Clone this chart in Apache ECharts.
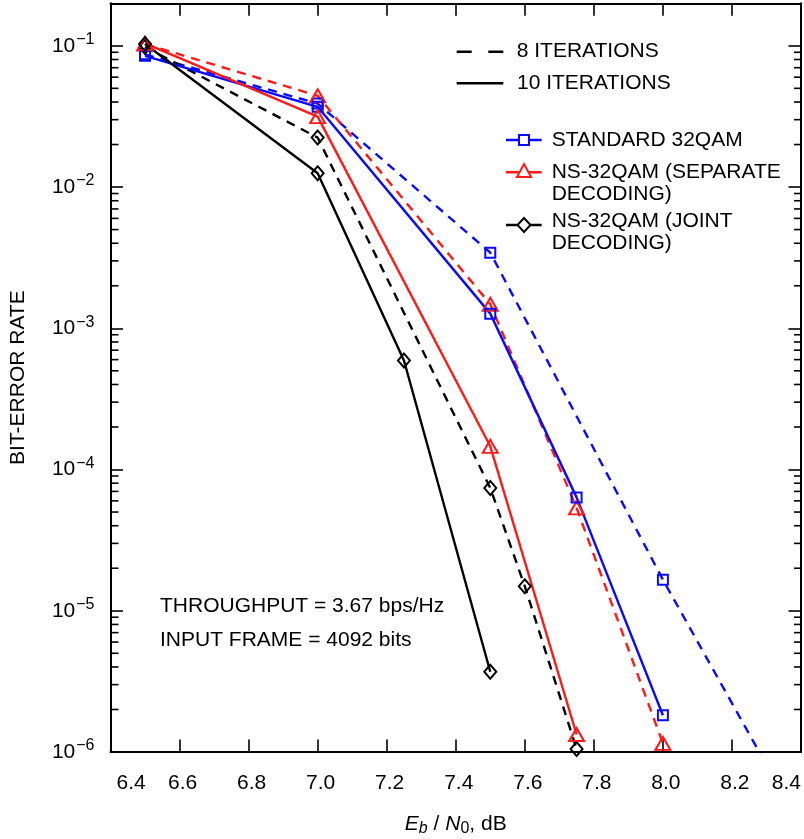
<!DOCTYPE html>
<html>
<head>
<meta charset="utf-8">
<script src="https://cdn.jsdelivr.net/npm/echarts@6/dist/echarts.min.js"></script>
<style>html,body{margin:0;padding:0;background:#fff}#c{width:804px;height:839px}</style>
</head>
<body>
<div id="c"></div>
<script>
// ---- data ----
const snrStd8  = [6.5, 7.0, 7.5, 8.0, 8.5];
const berStd8  = [0.087, 0.039, 3.43e-3, 1.66e-5, 1.08e-7];
const snrStd10 = [6.5, 7.0, 7.5, 7.75, 8.0];
const berStd10 = [0.085, 0.037, 1.27e-3, 6.35e-5, 1.82e-6];
const snrSep8  = [6.5, 7.0, 7.5, 7.75, 8.0];
const berSep8  = [0.103, 0.0443, 1.48e-3, 5.35e-5, 1.15e-6];
const snrSep10 = [6.5, 7.0, 7.5, 7.75];
const berSep10 = [0.104, 0.0315, 1.46e-4, 1.33e-6];
const snrJnt8  = [6.5, 7.0, 7.5, 7.6, 7.75];
const berJnt8  = [0.098, 0.0224, 7.4e-5, 1.49e-5, 1.05e-6];
const snrJnt10 = [6.5, 7.0, 7.25, 7.5];
const berJnt10 = [0.103, 0.01254, 5.92e-4, 3.7e-6];

const xTickMin = 6.4, xTickMax = 8.4, xTickStep = 0.2;
const yMin = 1e-6, yMax = 0.2;
const minorMultipliers = [2, 3, 4, 5, 6, 7, 8, 9];
const minorDecades = [1e-6, 1e-5, 1e-4, 1e-3, 1e-2, 1e-1];

const legendIter = ['8 ITERATIONS', '10 ITERATIONS'];
const legendSeries = ['STANDARD 32QAM', 'NS-32QAM (SEPARATE\nDECODING)', 'NS-32QAM (JOINT\nDECODING)'];
const noteLines = ['THROUGHPUT = 3.67 bps/Hz', 'INPUT FRAME = 4092 bits'];

const BLUE = '#0a0aff', RED = '#ff1a1a', BLACK = '#000';
const FONT = '"Liberation Sans", Arial, Helvetica, sans-serif';
const DASH = [9, 7];
const LW = 2.4;

const minorTickValues = [];
minorDecades.forEach(d => minorMultipliers.forEach(m => { const v = d * m; if (v < yMax) minorTickValues.push(v); }));

function pairs(xs, ys) { return xs.map((x, i) => [x, ys[i]]); }

function mkSeries(name, xs, ys, color, dashed, symbol, size) {
  return {
    name, type: 'line', data: pairs(xs, ys), xAxisIndex: 0, yAxisIndex: 0,
    symbol, symbolSize: size, showSymbol: true, clip: true, animation: false,
    lineStyle: { color, width: LW, type: dashed ? DASH : 'solid' },
    itemStyle: { color: 'rgba(0,0,0,0)', borderColor: color, borderWidth: 2 },
    emphasis: { disabled: true }
  };
}

const chart = echarts.init(document.getElementById('c'), null, { renderer: 'canvas' });

function fmtLog(v) {
  const l = Math.log10(v); const e = Math.round(l);
  if (Math.abs(l - e) > 1e-6) return '';
  return '{b|10}{s|\u2212' + (-e) + '}';
}

const yCommon = {
  type: 'log', logBase: 10, min: yMin, max: yMax,
  axisLine: { show: true, lineStyle: { color: '#000', width: 2 } },
  axisTick: { show: true, inside: true, length: 12.5, lineStyle: { color: '#000', width: 1.6 } },
  splitLine: { show: false }, minorTick: { show: false }
};
const xCommon = {
  type: 'value', min: xTickMin, max: xTickMax, interval: xTickStep,
  axisLine: { show: true, onZero: false, lineStyle: { color: '#000', width: 2 } },
  axisTick: { show: true, inside: true, length: 12.5, lineStyle: { color: '#000', width: 1.6 } },
  splitLine: { show: false }
};

// legend graphics
const G = [];
const lx1 = 456.7, lx2 = 503.3;
const TF = '21px ' + FONT;
G.push({ type: 'line', shape: { x1: lx1, y1: 51.7, x2: lx2, y2: 51.7 }, style: { stroke: '#000', lineWidth: LW, lineDash: [15, 16.6] } });
G.push({ type: 'text', style: { text: legendIter[0], x: 516.7, y: 51.7, font: TF, fill: '#000', verticalAlign: 'middle', align: 'left' } });
G.push({ type: 'line', shape: { x1: lx1, y1: 83.3, x2: lx2, y2: 83.3 }, style: { stroke: '#000', lineWidth: LW } });
G.push({ type: 'text', style: { text: legendIter[1], x: 517, y: 83.3, font: TF, fill: '#000', verticalAlign: 'middle', align: 'left' } });

const sx1 = 506, sx2 = 541.7, scx = 524;
// standard
G.push({ type: 'line', shape: { x1: sx1, y1: 140, x2: sx2, y2: 140 }, style: { stroke: BLUE, lineWidth: LW } });
G.push({ type: 'rect', shape: { x: scx - 5, y: 135, width: 10, height: 10 }, style: { fill: '#fff', stroke: BLUE, lineWidth: 2 } });
G.push({ type: 'text', style: { text: legendSeries[0], x: 551.7, y: 140, font: TF, fill: '#000', verticalAlign: 'middle', align: 'left' } });
// separate
G.push({ type: 'line', shape: { x1: sx1, y1: 172.3, x2: sx2, y2: 172.3 }, style: { stroke: RED, lineWidth: LW } });
G.push({ type: 'polygon', shape: { points: [[scx, 164], [scx + 7, 177], [scx - 7, 177]] }, style: { fill: '#fff', stroke: RED, lineWidth: 2 } });
G.push({ type: 'text', style: { text: legendSeries[1], x: 551.7, y: 161.5, font: TF, lineHeight: 21.5, fill: '#000', verticalAlign: 'top', align: 'left' } });
// joint
G.push({ type: 'line', shape: { x1: sx1, y1: 225, x2: sx2, y2: 225 }, style: { stroke: BLACK, lineWidth: LW } });
G.push({ type: 'polygon', shape: { points: [[scx, 218], [scx + 6.5, 225], [scx, 232], [scx - 6.5, 225]] }, style: { fill: '#fff', stroke: BLACK, lineWidth: 2 } });
G.push({ type: 'text', style: { text: legendSeries[2], x: 551.7, y: 210.5, font: TF, lineHeight: 21.5, fill: '#000', verticalAlign: 'top', align: 'left' } });
// notes
G.push({ type: 'text', style: { text: noteLines[0], x: 160, y: 606.7, font: TF, fill: '#000', verticalAlign: 'middle', align: 'left' } });
G.push({ type: 'text', style: { text: noteLines[1], x: 160, y: 640, font: TF, fill: '#000', verticalAlign: 'middle', align: 'left' } });

const option = {
  animation: false,
  backgroundColor: '#fff',
  grid: { left: 110.5, right: 3, top: 3.3, bottom: 87, outerBoundsMode: 'none', containLabel: false },
  xAxis: [
    Object.assign({}, xCommon, {
      position: 'bottom',
      name: '{i|E}{si|b}{n| / }{i|N}{sn|0}{n|, dB}', nameLocation: 'middle', nameGap: 60,
      nameTextStyle: { rich: {
        i: { fontFamily: FONT, fontSize: 21, fontStyle: 'italic', color: '#000' },
        si: { fontFamily: FONT, fontSize: 16, fontStyle: 'italic', color: '#000', padding: [9, 0, 0, 0] },
        sn: { fontFamily: FONT, fontSize: 16, color: '#000', padding: [9, 0, 0, 0] },
        n: { fontFamily: FONT, fontSize: 21, color: '#000' }
      } },
      axisLabel: { show: true, margin: 21, fontFamily: FONT, fontSize: 21, color: '#000',
        padding: [0, 0, 0, 6],
        formatter: v => v.toFixed(1), showMinLabel: true, showMaxLabel: true,
        alignMinLabel: 'left', alignMaxLabel: 'right' }
    }),
    Object.assign({}, xCommon, { position: 'top', axisLabel: { show: false } })
  ],
  yAxis: [
    Object.assign({}, yCommon, {
      position: 'left',
      name: 'BIT-ERROR RATE', nameLocation: 'middle', nameGap: 82, nameRotate: 90,
      nameTextStyle: { fontFamily: FONT, fontSize: 21, color: '#000' },
      axisLabel: { show: true, margin: 16, color: '#000', formatter: fmtLog,
        rich: {
          b: { fontFamily: FONT, fontSize: 21, color: '#000' },
          s: { fontFamily: FONT, fontSize: 16, color: '#000', padding: [0, 0, 12, 1] }
        } }
    }),
    Object.assign({}, yCommon, { position: 'right', axisLabel: { show: false } })
  ],
  graphic: G,
  series: [
    mkSeries('std8', snrStd8, berStd8, BLUE, true, 'rect', 10),
    mkSeries('sep8', snrSep8, berSep8, RED, true, 'triangle', [15, 13]),
    mkSeries('jnt8', snrJnt8, berJnt8, BLACK, true, 'diamond', [12, 14]),
    mkSeries('std10', snrStd10, berStd10, BLUE, false, 'rect', 10),
    mkSeries('sep10', snrSep10, berSep10, RED, false, 'triangle', [15, 13]),
    mkSeries('jnt10', snrJnt10, berJnt10, BLACK, false, 'diamond', [12, 14]),
    {
      type: 'custom', name: 'minorTicks', coordinateSystem: 'cartesian2d', xAxisIndex: 0, yAxisIndex: 0,
      silent: true, clip: false, animation: false,
      data: minorTickValues.map(v => [xTickMin, v]),
      renderItem: function (params, api) {
        const y = api.coord([api.value(0), api.value(1)])[1];
        const cs = params.coordSys;
        return { type: 'group', children: [
          { type: 'line', shape: { x1: cs.x, y1: y, x2: cs.x + 8, y2: y }, style: { stroke: '#000', lineWidth: 1.6 } },
          { type: 'line', shape: { x1: cs.x + cs.width, y1: y, x2: cs.x + cs.width - 7, y2: y }, style: { stroke: '#000', lineWidth: 1.6 } }
        ] };
      }
    }
  ]
};
chart.setOption(option);
</script>
</body>
</html>
